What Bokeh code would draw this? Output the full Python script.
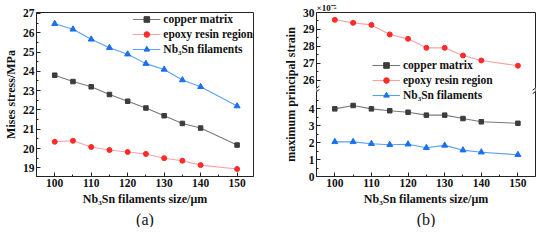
from bokeh.plotting import figure
from bokeh.layouts import row
from bokeh.models import FixedTicker, Arrow, PolyAnnotation, Range1d, Legend, LegendItem, Title
from bokeh.embed import file_html
from bokeh.resources import INLINE

# ---------------- data ----------------
size = [100, 105, 110, 115, 120, 125, 130, 135, 140, 150]

stress_copper = [23.80, 23.47, 23.20, 22.80, 22.45, 22.10, 21.70, 21.30, 21.06, 20.18]
stress_epoxy = [20.35, 20.40, 20.08, 19.92, 19.82, 19.72, 19.50, 19.37, 19.14, 18.94]
stress_nb3sn = [26.47, 26.18, 25.66, 25.22, 24.89, 24.40, 24.10, 23.55, 23.20, 22.20]

strain_copper = [3.98, 4.18, 3.98, 3.87, 3.78, 3.61, 3.61, 3.41, 3.22, 3.13]
strain_epoxy = [29.57, 29.39, 29.27, 28.71, 28.45, 27.92, 27.92, 27.47, 27.18, 26.87]
strain_nb3sn = [2.04, 2.04, 1.93, 1.87, 1.90, 1.69, 1.83, 1.55, 1.43, 1.28]

x_ticks = [100, 110, 120, 130, 140, 150]
x_minor = [105, 115, 125, 135, 145]
stress_ticks = [19, 20, 21, 22, 23, 24, 25, 26, 27]
strain_low_ticks = [0, 1, 2, 3, 4]
strain_high_ticks = [26, 27, 28, 29, 30]

# broken axis limits for panel (b)
low_top = 5.1
high_bottom = 25.45
high_top = 30.0
offset = high_bottom - low_top

FONT = "Liberation Serif"
C_CU_LINE, C_CU_MK = "#7a7a7a", "#3c3c3c"
C_EP_LINE, C_EP_MK = "#f5a3a3", "#ff2a2a"
C_NB_LINE, C_NB_MK = "#5b9ff0", "#1c6ff0"


def style(p):
    p.outline_line_color = "#222222"
    p.outline_line_width = 1
    p.background_fill_color = "white"
    p.border_fill_color = "white"
    p.grid.visible = False
    for ax in (p.xaxis[0], p.yaxis[0]):
        ax.major_tick_in = 4
        ax.major_tick_out = 0
        ax.minor_tick_in = 2
        ax.minor_tick_out = 0
        ax.major_label_text_font = FONT
        ax.major_label_text_font_style = "bold"
        ax.major_label_text_font_size = "11.5px"
        ax.major_label_text_color = "#111111"
        ax.axis_label_text_font = FONT
        ax.axis_label_text_font_style = "bold"
        ax.axis_label_text_font_size = "12px"
        ax.axis_label_text_color = "#111111"
        ax.major_label_standoff = 2
        ax.axis_label_standoff = 2
        ax.axis_line_color = "#222222"
        ax.major_tick_line_color = "#222222"
        ax.minor_tick_line_color = "#222222"
    p.xaxis[0].ticker = FixedTicker(ticks=x_ticks, minor_ticks=x_minor)
    p.xaxis[0].axis_label = "Nb\u2083Sn filaments size/\u03bcm"


def add_series(p, ys, line_c, mk_c, marker):
    r1 = p.line(size, ys, line_color=line_c, line_width=1.1)
    sz = {"square": 4.5, "circle": 5, "triangle": 6}[marker]
    r2 = p.scatter(size, ys, marker=marker, size=sz, fill_color=mk_c, line_color=mk_c)
    return [r1, r2]


def make_legend(p, items, loc):
    lg = Legend(items=items, location=loc)
    lg.label_text_font = FONT
    lg.label_text_font_style = "bold"
    lg.label_text_font_size = "11.5px"
    lg.label_text_color = "#111111"
    lg.border_line_color = None
    lg.background_fill_alpha = 0
    lg.padding = 0
    lg.margin = 0
    lg.spacing = 1
    lg.glyph_width = 28
    lg.glyph_height = 14
    lg.label_height = 14
    lg.label_standoff = 3
    p.add_layout(lg)


def add_caption(p, text):
    p.add_layout(Title(text=text, align="center", text_font=FONT, text_font_style="normal",
                       text_font_size="16px", text_color="#111111", standoff=0, offset=0),
                 "below")


# ---------------- panel (a) ----------------
pa = figure(width=268, height=227, output_backend="svg", toolbar_location=None,
            x_range=Range1d(95, 154.5), y_range=Range1d(18.55, 27.05),
            min_border_left=26, min_border_right=15, min_border_top=9, min_border_bottom=10)
style(pa)
pa.yaxis[0].ticker = FixedTicker(ticks=stress_ticks,
                                 minor_ticks=[v + 0.5 for v in stress_ticks[:-1]])
pa.yaxis[0].axis_label = "Mises stress/MPa"

ra1 = add_series(pa, stress_copper, C_CU_LINE, C_CU_MK, "square")
ra2 = add_series(pa, stress_epoxy, C_EP_LINE, C_EP_MK, "circle")
ra3 = add_series(pa, stress_nb3sn, C_NB_LINE, C_NB_MK, "triangle")
make_legend(pa, [LegendItem(label="copper matrix", renderers=ra1),
                 LegendItem(label="epoxy resin region", renderers=ra2),
                 LegendItem(label="Nb\u2083Sn filaments", renderers=ra3)], "top_right")
add_caption(pa, "(a)")

# ---------------- panel (b) ----------------
def tr(v):
    return round(v - offset, 4) if v > low_top else v

yb_top = round(high_top - offset, 4)
pb = figure(width=268, height=227, output_backend="svg", toolbar_location=None,
            x_range=Range1d(95, 154.8), y_range=Range1d(0, yb_top),
            min_border_left=48, min_border_right=1, min_border_top=0, min_border_bottom=10)
style(pb)
major_b = strain_low_ticks + [tr(v) for v in strain_high_ticks]
minor_b = [v + 0.5 for v in strain_low_ticks] + [tr(v - 0.5) for v in strain_high_ticks]
pb.yaxis[0].ticker = FixedTicker(ticks=major_b, minor_ticks=minor_b)
pb.yaxis[0].major_label_overrides = {tr(v): str(v) for v in strain_high_ticks}
pb.yaxis[0].axis_label = "maximum principal strain"

rb1 = add_series(pb, [tr(v) for v in strain_copper], C_CU_LINE, C_CU_MK, "square")
rb2 = add_series(pb, [tr(v) for v in strain_epoxy], C_EP_LINE, C_EP_MK, "circle")
rb3 = add_series(pb, [tr(v) for v in strain_nb3sn], C_NB_LINE, C_NB_MK, "triangle")
make_legend(pb, [LegendItem(label="copper matrix", renderers=rb1),
                 LegendItem(label="epoxy resin region", renderers=rb2),
                 LegendItem(label="Nb\u2083Sn filaments", renderers=rb3)], (56, 74))

pb.add_layout(Title(text="\u00d710\u207b\u2075", align="left", text_font=FONT,
                    text_font_style="bold", text_font_size="9px", text_color="#111111",
                    standoff=0, offset=0), "above")
add_caption(pb, "(b)")

# break marks on both spines
xs0, xs1 = pb.x_range.start, pb.x_range.end
dx = 0.8
for xe in (xs0, xs1):
    pb.add_layout(PolyAnnotation(xs=[xe - dx, xe + dx, xe + dx, xe - dx],
                                 ys=[low_top - 0.12, low_top - 0.12, low_top + 0.12, low_top + 0.12],
                                 fill_color="white", fill_alpha=1, line_alpha=0))
    for dy in (-0.1, 0.1):
        pb.add_layout(Arrow(x_start=xe - dx, y_start=low_top + dy - 0.12,
                            x_end=xe + dx, y_end=low_top + dy + 0.12, end=None,
                            line_color="#222222", line_width=1))

layout = row(pa, pb)
open("out.html", "w").write(file_html(layout, INLINE))
